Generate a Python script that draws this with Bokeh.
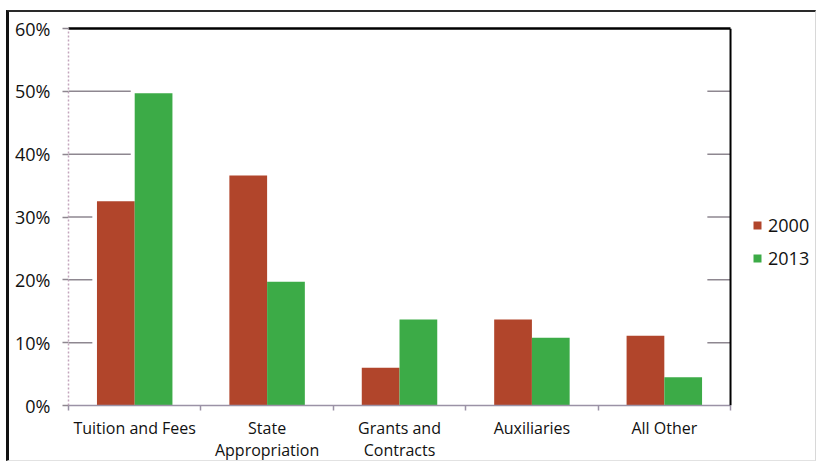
from bokeh.plotting import figure
from bokeh.models import (Range1d, LinearAxis, FixedTicker, PrintfTickFormatter,
                          Legend, LegendItem, Span)
from bokeh.embed import file_html
from bokeh.resources import INLINE

# Share of revenue by source, 2000 vs 2013 (percent)
categories = ["Tuition and Fees", "State\nAppropriation", "Grants and\nContracts",
              "Auxiliaries", "All Other"]
share_2000 = [32.5, 36.6, 6.0, 13.7, 11.1]
share_2013 = [49.7, 19.7, 13.7, 10.8, 4.5]
series_names = ["2000", "2013"]
y_ticks = [0, 10, 20, 30, 40, 50, 60]

RED = "#b1452b"
GREEN = "#3cab47"
GRID = "#8e8790"
AXIS = "#9b92a6"
TEXT = "#111111"
FONT = "Open Sans"

x_lo, x_hi = -0.5, len(categories) - 0.5
LEGEND_ROOM = 0.672   # extra x extent to the right of the bars for the legend

p = figure(width=810, height=451, output_backend="svg", toolbar_location=None,
           x_range=Range1d(x_lo, x_hi + LEGEND_ROOM), y_range=Range1d(0, 60),
           min_border_left=59, min_border_right=0, min_border_top=16,
           min_border_bottom=58)
p.outline_line_color = None
p.grid.visible = False
p.background_fill_color = "white"
p.border_fill_color = "white"
# outer frame round the whole chart
p.margin = (10, 0, 0, 6)
p.styles = {"border-left": "3px solid #121212", "border-top": "2px solid #2a2a2a",
            "border-right": "1px solid #d8d8d8", "border-bottom": "1px solid #e2e2e2"}

pos = list(range(len(categories)))
bar_w = 0.285
x_2000 = [i - bar_w / 2 for i in pos]
x_2013 = [i + bar_w / 2 for i in pos]

r_2000 = p.vbar(x=x_2000, top=share_2000, bottom=0, width=bar_w,
                fill_color=RED, line_color=None)
r_2013 = p.vbar(x=x_2013, top=share_2013, bottom=0, width=bar_w,
                fill_color=GREEN, line_color=None)

# short gridline stubs running in from the left and right edges of the bar area
stub_levels = y_ticks[1:-1]
stub_len = [0.18 if v < 40 else 0.47 for v in stub_levels]
n = len(stub_levels)
p.segment(x0=[x_lo] * n, y0=stub_levels, x1=[x_lo + s for s in stub_len], y1=stub_levels,
          line_color=GRID, line_width=1.5)
p.segment(x0=[x_hi - 0.175] * n, y0=stub_levels, x1=[x_hi] * n, y1=stub_levels,
          line_color=GRID, line_width=1.5)

# right edge of the bar area
p.add_layout(Span(location=x_hi, dimension="height", line_color="black", line_width=2))

# category axis: labels at group centres, ticks at group boundaries
xa = p.xaxis[0]
xa.bounds = (x_lo, x_hi)
xa.ticker = FixedTicker(ticks=pos, minor_ticks=[i - 0.5 for i in range(len(categories) + 1)])
xa.major_label_overrides = {i: c for i, c in enumerate(categories)}
xa.major_tick_line_color = None
xa.major_tick_out = 0
xa.major_tick_in = 0
xa.minor_tick_line_color = AXIS
xa.minor_tick_line_width = 1.5
xa.minor_tick_out = 5
xa.minor_tick_in = 0
xa.axis_line_color = AXIS
xa.axis_line_width = 1.5
xa.major_label_text_font = FONT
xa.major_label_text_font_size = "16px"
xa.major_label_text_line_height = 1.0
xa.major_label_text_color = TEXT
xa.major_label_standoff = 6

ya = p.yaxis[0]
ya.ticker = FixedTicker(ticks=y_ticks)
ya.formatter = PrintfTickFormatter(format="%d%%")
ya.axis_line_color = "#c4a6bd"
ya.axis_line_dash = "2 2"
ya.axis_line_width = 1.5
ya.major_tick_out = 6
ya.major_tick_in = 0
ya.major_tick_line_color = GRID
ya.major_tick_line_width = 1.5
ya.minor_tick_line_color = None
ya.major_label_standoff = 12
ya.major_label_text_font = FONT
ya.major_label_text_font_size = "18px"
ya.major_label_text_color = TEXT

top_axis = LinearAxis(ticker=FixedTicker(ticks=[]), bounds=(x_lo, x_hi),
                      axis_line_color="black", axis_line_width=2.5,
                      major_tick_line_color=None, minor_tick_line_color=None)
p.add_layout(top_axis, "above")

# legend to the right of the bar area
legend = Legend(items=[LegendItem(label=series_names[0], renderers=[r_2000]),
                       LegendItem(label=series_names[1], renderers=[r_2013])],
                location=(684, 135), orientation="vertical",
                border_line_color=None, background_fill_alpha=0,
                glyph_width=10, glyph_height=10, label_height=22, spacing=9,
                padding=0, margin=0, label_standoff=6,
                label_text_font=FONT, label_text_font_size="18px",
                label_text_color=TEXT)
p.add_layout(legend)

open("out.html", "w").write(file_html(p, INLINE))
